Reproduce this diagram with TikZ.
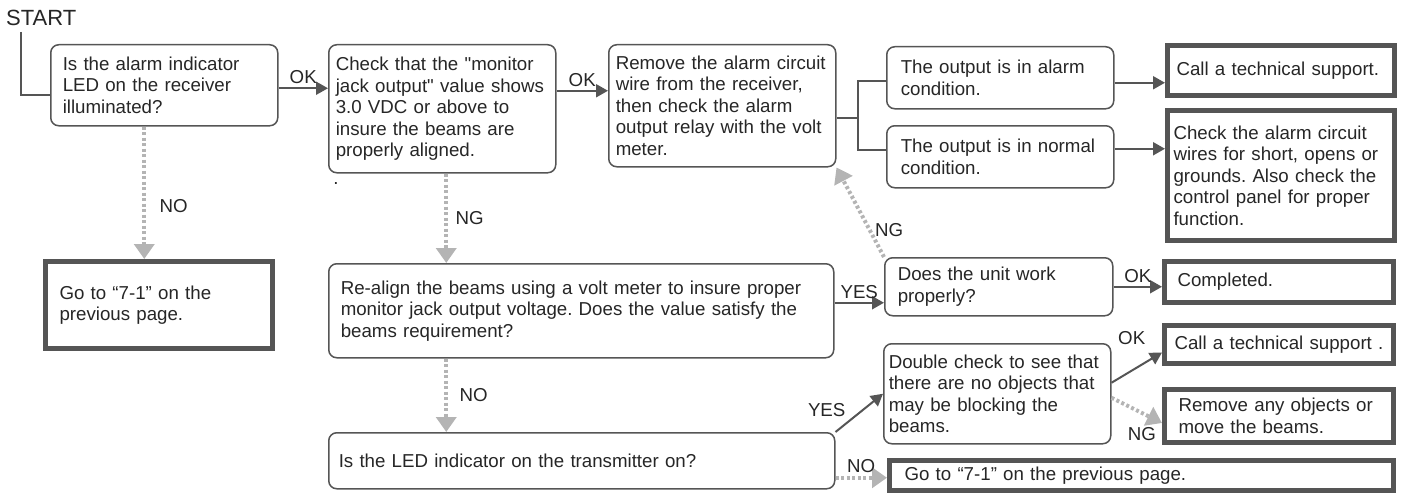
\documentclass[tikz,border=0pt]{standalone}
\usepackage{fontspec}
\setmainfont{Liberation Sans}
\usetikzlibrary{arrows.meta}
\frenchspacing

\definecolor{linegray}{HTML}{555555}
\definecolor{dotgray}{HTML}{B4B4B4}

\begin{document}
\begin{tikzpicture}[
        x=1pt, y=-1pt,
        every node/.style={font=\fontsize{18.7}{21.5}\selectfont, text=black!85},
        >={Triangle[length=12pt,width=13pt]},
        rbox/.style={draw=linegray, line width=1.5pt, rounded corners=8pt, anchor=north west, align=left, inner ysep=2pt},
        tbox/.style={draw=linegray, line width=5pt, anchor=north west, align=left, inner ysep=2pt},
        boxsize/.style n args={3}{minimum width=#1pt, minimum height=#2pt, inner xsep=#3pt, text width=#1pt-2*#3pt},
        flowline/.style={draw=linegray, line width=2pt},
        flowarrow/.style={flowline, ->},
        skiparrow/.style={draw=dotgray, line width=4pt, dash pattern=on 3pt off 2.5pt, -{Triangle[length=15pt,width=20pt]}}
    ]
    \useasboundingbox (0,0) rectangle (1403,495);

    %% ---- Start ----
    \node[anchor=west, inner sep=0pt, font=\fontsize{22}{26}\selectfont] (start) at (6,18) {START};

    %% ---- Left column ----
    \node[rbox, boxsize={227}{81}{12}] (alarmled) at (50,44)
        {Is the alarm indicator\\LED on the receiver\\illuminated?};
    \node[tbox, boxsize={227}{87}{14}] (goto1) at (43,259)
        {Go to “7-1” on the\\previous page.};

    %% ---- Middle column ----
    \node[rbox, boxsize={227}{128}{7}] (monitor) at (328,44)
        {Check that the \textquotedbl monitor\\jack output\textquotedbl{} value shows\\3.0 VDC or above to\\insure the beams are\\properly aligned.};
    \node (dot) at (336,183) {.};
    \node[rbox, boxsize={505}{94}{12}] (realign) at (328,263)
        {Re-align the beams using a volt meter to insure proper\\monitor jack output voltage. Does the value satisfy the\\beams requirement?};
    \node[rbox, boxsize={506}{56}{10}] (ledtx) at (328,432)
        {Is the LED indicator on the transmitter on?};
    \node[rbox, boxsize={227}{122}{7}] (relay) at (608,44)
        {Remove the alarm circuit\\wire from the receiver,\\then check the alarm\\output relay with the volt\\meter.};

    %% ---- Output checks ----
    \node[rbox, boxsize={227}{62}{14}] (alarmcond) at (886,46)
        {The output is in alarm\\condition.};
    \node[rbox, boxsize={227}{62}{14}] (normalcond) at (886,125)
        {The output is in normal\\condition.};
    \node[tbox, boxsize={227}{50}{9}] (support1) at (1165,43)
        {Call a technical support.};
    \node[tbox, boxsize={227}{130}{6}] (checkwires) at (1165,108)
        {Check the alarm circuit\\wires for short, opens or\\grounds. Also check the\\control panel for proper\\function.};

    %% ---- Unit and objects checks ----
    \node[rbox, boxsize={228}{58}{13}] (unitwork) at (884,257)
        {Does the unit work\\properly?};
    \node[tbox, boxsize={229}{41}{13}] (completed) at (1162,259)
        {Completed.};
    \node[rbox, boxsize={227}{100}{5}] (dblcheck) at (883,343)
        {Double check to see that\\there are no objects that\\may be blocking the\\beams.};
    \node[tbox, boxsize={229}{38}{10}] (support2) at (1162,323)
        {Call a technical support .};
    \node[tbox, boxsize={229}{53}{14}] (removeobj) at (1162,387)
        {Remove any objects or\\move the beams.};
    \node[tbox, boxsize={504}{30}{15}] (goto2) at (887,458)
        {Go to “7-1” on the previous page.};

    %% ---- Solid connectors ----
    \draw[flowline] ([xshift=15pt,yshift=-6pt]start.south west) |- ([yshift=-10pt]alarmled.west);
    \draw[flowarrow] ([yshift=-3pt]alarmled.east) -- ([yshift=-3pt]alarmled.east -| monitor.west)
        node[midway, above] {OK};
    \draw[flowarrow] ([yshift=18pt]monitor.east) -- ([yshift=18pt]monitor.east -| relay.west)
        node[midway, above] {OK};
    \coordinate (split) at ([xshift=21pt,yshift=-12pt]relay.east);
    \draw[flowline] ([yshift=-12pt]relay.east) -- (split);
    \draw[flowline] ([yshift=-3pt]alarmcond.west) -| (split) |- ([yshift=7pt]normalcond.west);
    \draw[flowarrow] ([yshift=-5pt]alarmcond.east) -- ([yshift=-5pt]alarmcond.east -| support1.west);
    \draw[flowarrow] ([yshift=8pt]normalcond.east) -- ([yshift=8pt]normalcond.east -| checkwires.west);
    \draw[flowarrow] ([yshift=8pt]realign.east) -- ([yshift=8pt]realign.east -| unitwork.west)
        node[midway, above] {YES};
    \draw[flowarrow] (unitwork.east) -- (unitwork.east -| completed.west)
        node[midway, above] {OK};
    \draw[flowarrow] (ledtx.north east) -- (dblcheck.west)
        node[pos=0.3, above left] {YES};
    \draw[flowarrow] ([yshift=11pt]dblcheck.east) -- ([yshift=-8pt]support2.west)
        node[pos=0.4, above=22pt] {OK};

    %% ---- Dotted connectors ----
    \draw[skiparrow] ([xshift=-20pt]alarmled.south) -- ([xshift=-20pt]alarmled.south |- goto1.north)
        node[pos=0.6, right=10pt] {NO};
    \draw[skiparrow] ([xshift=4pt]monitor.south) -- ([xshift=4pt]monitor.south |- realign.north)
        node[midway, right=4pt] {NG};
    \draw[skiparrow] ([xshift=4pt]monitor.south |- realign.south) -- ([xshift=4pt]monitor.south |- ledtx.north)
        node[midway, right=8pt] {NO};
    \draw[skiparrow] (unitwork.north west) -- (relay.south east)
        node[pos=0.3, right] {NG};
    \draw[skiparrow] ([yshift=-4pt]dblcheck.east) -- ([yshift=-7pt]removeobj.west)
        node[pos=0.6, below=9pt] {NG};
    \draw[skiparrow] ([yshift=-17pt]ledtx.east) -- ([yshift=-17pt]ledtx.east -| goto2.west)
        node[midway, above] {NO};

\end{tikzpicture}
\end{document}
